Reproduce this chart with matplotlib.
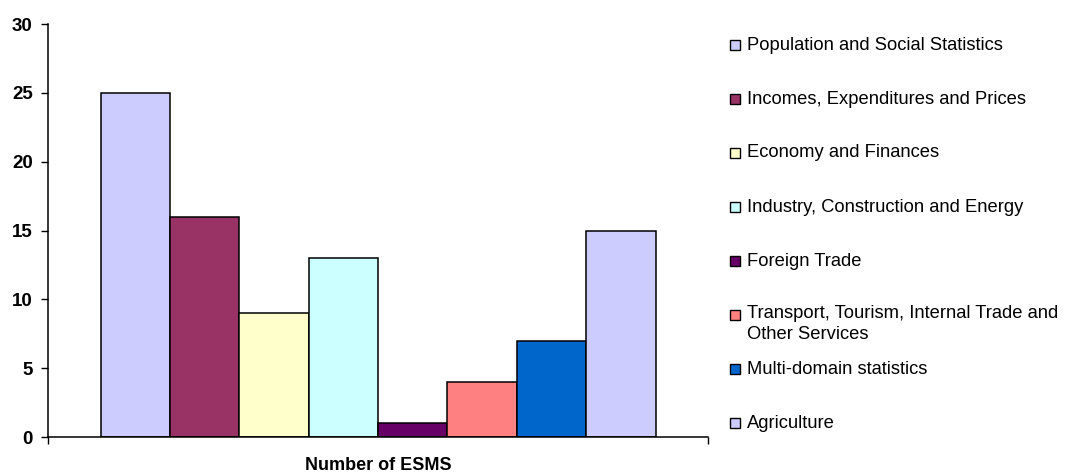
import numpy as np
import matplotlib.pyplot as plt
from matplotlib.patches import Rectangle

plt.rcParams['font.family'] = ['Liberation Sans', 'DejaVu Sans']

domains = ['Population and Social Statistics',
           'Incomes, Expenditures and Prices',
           'Economy and Finances',
           'Industry, Construction and Energy',
           'Foreign Trade',
           'Transport, Tourism, Internal Trade and\nOther Services',
           'Multi-domain statistics',
           'Agriculture']
esms_counts = [25, 16, 9, 13, 1, 4, 7, 15]
colors = ['#CCCCFF', '#993366', '#FFFFCC', '#CCFFFF',
          '#660066', '#FF8080', '#0066CC', '#CCCCFF']
yticks = [0, 5, 10, 15, 20, 25, 30]

fig = plt.figure(figsize=(10.73, 4.75), dpi=100)
ax = fig.add_axes([48/1073, 1-437/475, 660/1073, 413/475])

n = len(esms_counts)
w = 555/660/n
xpos = (np.arange(n) - (n-1)/2) * w
ax.bar(xpos, esms_counts, width=w, color=colors, edgecolor='black', linewidth=1.1)

ax.set_xlim(-0.5, 0.5)
ax.set_ylim(0, 30)
ax.set_yticks(yticks)
ax.set_yticklabels([str(t) for t in yticks], fontsize=13.5, fontweight='bold')
ax.set_xticks([-0.5, 0.5])
ax.set_xticklabels([])
ax.tick_params(axis='both', direction='out', length=5, width=1, color='black')
ax.tick_params(axis='y', pad=6)
for s in ['top', 'right']:
    ax.spines[s].set_visible(False)
for s in ['left', 'bottom']:
    ax.spines[s].set_linewidth(1.1)
    ax.spines[s].set_color('black')
ax.set_xlabel('Number of ESMS', fontsize=13, fontweight='bold', va='center')
ax.xaxis.set_label_coords(0.5, -28/413)

# legend drawn by hand so the spacing follows the original layout
legend_y = [45, 99, 153, 207, 261, 315, 369, 423]
for lab, col, yy in zip(domains, colors, legend_y):
    fig.patches.append(Rectangle((730/1073, 1-(yy+5)/475), 10/1073, 10/475,
                                 transform=fig.transFigure, facecolor=col,
                                 edgecolor='black', linewidth=1.0))
    if '\n' in lab:
        fig.text(747/1073, 1-(yy-10)/475, lab, fontsize=13.2, va='top',
                 ha='left', linespacing=1.32)
    else:
        fig.text(747/1073, 1-yy/475, lab, fontsize=13.2, va='center', ha='left')

fig.savefig('out.png', dpi=100)
